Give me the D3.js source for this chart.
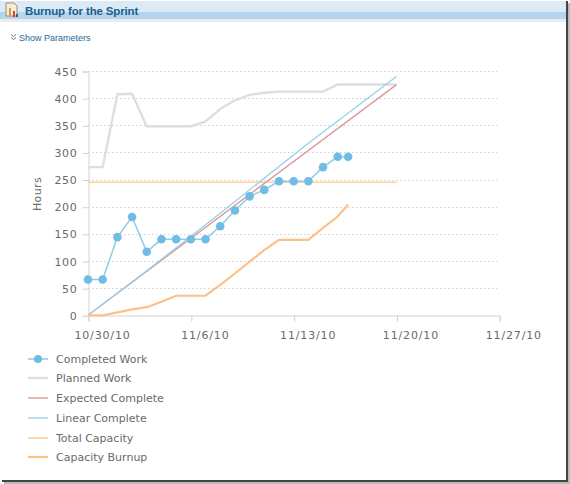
<!DOCTYPE html>
<html><head><meta charset="utf-8">
<script src="https://cdnjs.cloudflare.com/ajax/libs/d3/7.8.5/d3.min.js"></script>
<style>
html,body{margin:0;padding:0;background:#fff;overflow:hidden}
svg{display:block}
text{font-family:"DejaVu Sans",sans-serif}
</style></head><body>
<svg id="c" width="570" height="484"></svg>
<script>
const title = "Burnup for the Sprint";
const paramsLabel = "Show Parameters";
const yLabel = "Hours";
const yTicks = [0,50,100,150,200,250,300,350,400,450];
const xTicks = ["2010-10-30","2010-11-06","2010-11-13","2010-11-20","2010-11-27"];
const days = ["2010-10-30","2010-10-31","2010-11-01","2010-11-02","2010-11-03","2010-11-04","2010-11-05","2010-11-06","2010-11-07","2010-11-08","2010-11-09","2010-11-10","2010-11-11","2010-11-12","2010-11-13","2010-11-14","2010-11-15","2010-11-16","2010-11-16T17:00"];
const completedWork = [66,66,144,181,117,140,140,140,140,164,193,219,231,247,247,247,273,292,292];
const capacityBurnup = [0,0,5.5,11,15,25,36,36,36,56,77,99,120,139,139,139,161,182,204];
const plannedDays = ["2010-10-30","2010-10-31","2010-11-01","2010-11-02","2010-11-03","2010-11-04","2010-11-05","2010-11-06","2010-11-07","2010-11-08","2010-11-09","2010-11-10","2010-11-11","2010-11-12","2010-11-13","2010-11-14","2010-11-15","2010-11-16","2010-11-20"];
const plannedWork = [273,273,407,408,348,348,348,348,357,380,396,406,410,412,412,412,412,425,425];
const expectedDays = ["2010-10-30","2010-11-20"];
const expectedComplete = [0,425];
const linearDays = ["2010-10-30","2010-11-03","2010-11-08","2010-11-14","2010-11-20"];
const linearComplete = [0,82,188,317,440];
const capacityDays = ["2010-10-30","2010-11-20"];
const totalCapacity = [245,245];
const seriesNames = ["Completed Work","Planned Work","Expected Complete","Linear Complete","Total Capacity","Capacity Burnup"];
const seriesColors = ["#92cdea","#dedede","#dc9a9a","#98cfec","#fdd09c","#fdc088"];
const seriesWidths = [1.6,2.4,1.4,1.3,1.6,2.2];

const svg = d3.select("#c");
const parse = s => new Date(s.length>10 ? s+"Z" : s+"T00:00Z");
const x = d3.scaleUtc().domain([parse(xTicks[0]),parse(xTicks[4])]).range([88,499.3]);
const y = d3.scaleLinear().domain([0,450]).range([315.3,71]);
const line = d3.line().x(d=>x(d[0])).y(d=>y(d[1]));
const zip = (a,b)=>a.map((s,i)=>[parse(s),b[i]]);

// header band
svg.append("rect").attr("x",0).attr("y",1).attr("width",566).attr("height",11).attr("fill","#dbeaf5");
svg.append("rect").attr("x",0).attr("y",12).attr("width",566).attr("height",7).attr("fill","#b6d4eb");
svg.append("rect").attr("x",0).attr("y",19).attr("width",566).attr("height",3).attr("fill","#ececec");
// window shadow
svg.append("rect").attr("x",566).attr("y",1).attr("width",2).attr("height",481).attr("fill","#444");
svg.append("rect").attr("x",568).attr("y",3).attr("width",2).attr("height",481).attr("fill","#bbb");
svg.append("rect").attr("x",2).attr("y",480).attr("width",566).attr("height",2).attr("fill","#444");
svg.append("rect").attr("x",4).attr("y",482).attr("width",566).attr("height",2).attr("fill","#bbb");
// icon
const icon = svg.append("g");
icon.append("path").attr("d","M6 3H14L17 6V16H6Z").attr("fill","#f4ecd6").attr("stroke","#9a8f70").attr("stroke-width",1);
icon.append("rect").attr("x",9).attr("y",8).attr("width",2).attr("height",8).attr("fill","#c8a24a");
icon.append("rect").attr("x",13).attr("y",11).attr("width",2).attr("height",6).attr("fill","#d9402a");
icon.append("rect").attr("x",16).attr("y",14).attr("width",2).attr("height",3).attr("fill","#2a5f9a");

svg.append("text").attr("x",25).attr("y",14.5).text(title)
  .attr("font-size",11.5).attr("font-weight","bold").attr("fill","#17608f")
  .style("font-family","'Liberation Sans',sans-serif").style("letter-spacing","-0.15px");
svg.append("path").attr("d","M11 34.5l2.5 2 2.5-2M11 37.5l2.5 2 2.5-2").attr("fill","none").attr("stroke","#777").attr("stroke-width",1);
svg.append("text").attr("x",19).attr("y",41).text(paramsLabel)
  .attr("font-size",9).attr("fill","#1f6a9a").style("font-family","'Liberation Sans',sans-serif");

// grid
const grid = svg.append("g");
grid.selectAll("line").data(yTicks.filter(d=>d>0)).join("line")
  .attr("x1",88).attr("x2",497).attr("y1",d=>Math.round(y(d))+.5).attr("y2",d=>Math.round(y(d))+.5)
  .attr("stroke","#cfcfcf").attr("stroke-width",1).attr("stroke-dasharray","1.5,2.5");

// axes
const yAxis = svg.append("g").attr("transform","translate(88.5,0.5)")
  .call(d3.axisLeft(y).tickValues(yTicks).tickSize(6).tickPadding(5));
const xAxis = svg.append("g").attr("transform","translate(0.5,315.5)")
  .call(d3.axisBottom(x).tickValues(xTicks.map(parse)).tickSize(6).tickPadding(10)
    .tickFormat(d=>`${d.getUTCMonth()+1}/${d.getUTCDate()}/${String(d.getUTCFullYear()).slice(2)}`));
[yAxis,xAxis].forEach(a=>{
  a.selectAll(".domain,line").attr("stroke","#d2d2d2");
  a.selectAll("text").attr("fill","#6a6a6a").attr("font-size",11).style("letter-spacing","0.7px")
   .style("font-family","'DejaVu Sans',sans-serif");
});
xAxis.selectAll("text").attr("dx",13.5).style("letter-spacing","0.85px");
svg.append("text").attr("transform","translate(41,194) rotate(-90)").attr("text-anchor","middle")
  .text(yLabel).attr("font-size",11).attr("fill","#6a6a6a").style("letter-spacing","0.4px");

// series
const draw = (data,i)=>svg.append("path").datum(data).attr("d",line).attr("fill","none")
  .attr("stroke",seriesColors[i]).attr("stroke-width",seriesWidths[i]);
draw(zip(plannedDays,plannedWork),1);
draw(zip(capacityDays,totalCapacity),4);
draw(zip(expectedDays,expectedComplete),2);
draw(zip(linearDays,linearComplete),3);
draw(zip(days,capacityBurnup),5);
draw(zip(days,completedWork),0);
svg.append("g").selectAll("circle").data(zip(days,completedWork)).join("circle")
  .attr("cx",d=>x(d[0])).attr("cy",d=>y(d[1])).attr("r",4.3).attr("fill","#6fbde6");

// legend
const legendY = d3.scaleOrdinal().domain(seriesNames).range([359,378,398,418,438,457]);
const lg = svg.append("g").selectAll("g").data(seriesNames).join("g")
  .attr("transform",d=>`translate(0,${legendY(d)})`);
lg.append("line").attr("x1",28).attr("x2",48).attr("y1",.0).attr("y2",.0)
  .attr("stroke",(d,i)=>seriesColors[i]).attr("stroke-width",(d,i)=>seriesWidths[i]);
lg.filter((d,i)=>i===0).append("circle").attr("cx",38).attr("r",4).attr("fill","#6fbde6");
lg.append("text").attr("x",56).attr("y",4).text(d=>d).attr("font-size",11).attr("fill","#6a6a6a");
</script>
</body></html>
